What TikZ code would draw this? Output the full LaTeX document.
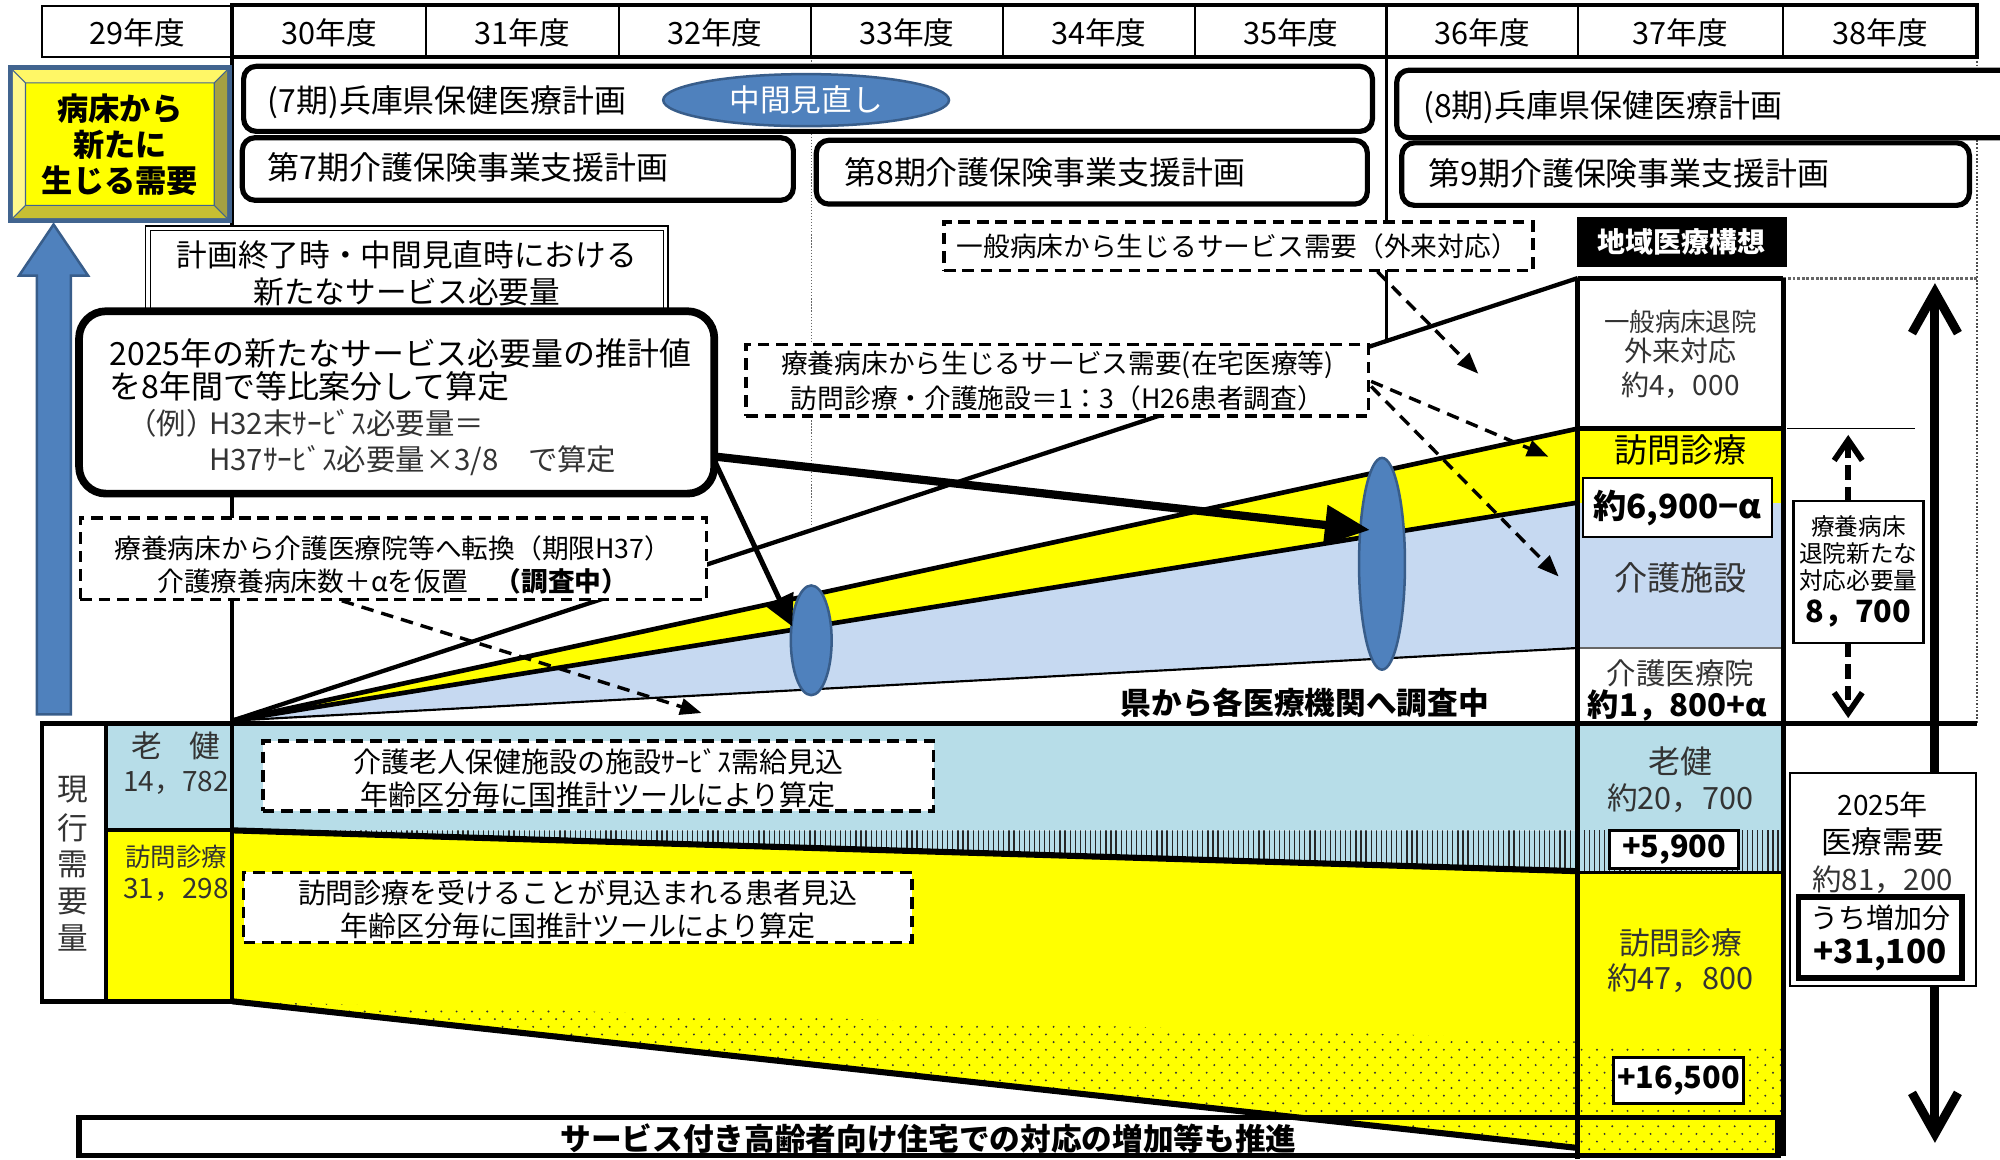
\documentclass[tikz,border=0pt]{standalone}
\usepackage{fontspec}
\setmainfont{Noto Sans CJK JP}
\usetikzlibrary{arrows.meta,shapes.geometric,fit}
\definecolor{ylw}{HTML}{FFFF00}
\definecolor{lb}{HTML}{B7DDE8}
\definecolor{wb}{HTML}{C6D9F1}
\definecolor{bl}{HTML}{4F81BD}
\definecolor{bld}{HTML}{385D8A}
\definecolor{frm}{HTML}{41648F}
\definecolor{gtx}{HTML}{333333}
\tikzset{
 T/.style={inner sep=0pt, outer sep=0pt},
 s18/.style={font=\fontsize{13.2pt}{15pt}\selectfont},
 s20/.style={font=\fontsize{14.2pt}{16pt}\selectfont},
 s21/.style={font=\fontsize{14.9pt}{17pt}\selectfont},
 s22/.style={font=\fontsize{15.6pt}{18pt}\selectfont},
 s23/.style={font=\fontsize{16.4pt}{19pt}\selectfont},
 s24/.style={font=\fontsize{17.1pt}{20pt}\selectfont},
 s25/.style={font=\fontsize{17.8pt}{21pt}\selectfont},
 s26/.style={font=\fontsize{18.5pt}{22pt}\selectfont},
 b22/.style={font=\fontsize{15.6pt}{18pt}\selectfont\bfseries},
 b24/.style={font=\fontsize{17.1pt}{20pt}\selectfont\bfseries},
 b25/.style={font=\fontsize{17.4pt}{19.9pt}\selectfont\bfseries},
 b26/.style={font=\fontsize{18.5pt}{22pt}\selectfont\bfseries},
 planbox/.style={draw, line width=2.9pt, rounded corners=7pt, fill=white, inner sep=0pt},
 dbox/.style={draw, line width=2pt, dash pattern=on 6.5pt off 3.8pt, fill=white, inner sep=0pt},
 wbox/.style={draw, line width=1pt, fill=white, inner sep=0pt},
 dasharrow/.style={line width=1.9pt, dash pattern=on 7pt off 4.5pt, -{Triangle[length=0.42cm,width=0.32cm]}},
 hatchline/.style={line width=0.7pt, black!85},
}
\begin{document}
\begin{tikzpicture}[x=0.025cm,y=-0.025cm]
\useasboundingbox (0,0) rectangle (1568,909);
\fill[white] (0,0) rectangle (1568,909);

% ---------- guide lines
\draw[line width=2.6pt] (182,45)--(182,785);
\draw[line width=2pt] (1087,45)--(1087,267.3);
\draw[black!60, line width=0.7pt, densely dotted] (636,45)--(636,413);
\draw[black!70, line width=1pt, densely dotted] (1550,45)--(1550,567);
\draw[black!60, line width=1.6pt, densely dotted] (1398,218)--(1550,218);

% ---------- header
\draw[line width=1.1pt] (33,5) rectangle (182,45);
\foreach \x in {334,485,636,786,937,1237,1398} \draw[line width=1.1pt] (\x,5)--(\x,45);
\draw[line width=2.2pt] (182,4) rectangle (1087,45);
\draw[line width=2.2pt] (1087,4) rectangle (1550,45);
\node[T,s24] (h29) at (107.5,26) {29年度};
\node[T,s24] (h30) at (258,26) {30年度};
\node[T,s24] (h31) at (409.5,26) {31年度};
\node[T,s24] (h32) at (560.5,26) {32年度};
\node[T,s24] (h33) at (711,26) {33年度};
\node[T,s24] (h34) at (861.5,26) {34年度};
\node[T,s24] (h35) at (1012,26) {35年度};
\node[T,s24] (h36) at (1162,26) {36年度};
\node[T,s24] (h37) at (1317.5,26) {37年度};
\node[T,s24] (h38) at (1474,26) {38年度};

% ---------- wedge
\coordinate (O) at (182,565);
\coordinate (c1) at (1237,218);
\coordinate (c2) at (1237,336);
\coordinate (c3) at (1237,394);
\coordinate (c4) at (1237,508);
\draw[line width=2.4pt] (O)--(c1);
\fill[wb] (O)--(c3)--(c4)--cycle;
\fill[ylw] (O)--(c2)--(c3)--cycle;
\draw[line width=2.6pt] (O)--(c2);
\draw[line width=2.6pt] (O)--(c3);
\draw[line width=1.2pt] (O)--(c4);

% ---------- upper table column
\fill[ylw] (1237,336) rectangle (1398,394);
\fill[wb] (1237,394) rectangle (1398,508);
\draw[black!60, line width=0.8pt] (1237,508)--(1398,508);
\draw[line width=1pt] (1401,336)--(1501,336);

% ---------- lower bands
\fill[lb] (83,567) rectangle (182,651);
\fill[ylw] (83,651) rectangle (182,785);
\fill[lb] (182,567) rectangle (1237,651);
\fill[ylw] (182,651)--(1237,683)--(1237,900)--(182,785)--cycle;
\begin{scope}
 \clip (182,651)--(1237,651)--(1237,683)--cycle;
 \fill[lb] (182,650) rectangle (1237,684);
 \foreach \x in {183,187,...,1237} \draw[hatchline] (\x,650)--(\x,684);
\end{scope}
\fill[lb] (1237,567) rectangle (1398,651);
\begin{scope}
 \clip (1237,651) rectangle (1398,684);
 \fill[lb] (1237,651) rectangle (1398,684);
 \foreach \x in {1238,1242,...,1398} \draw[hatchline] (\x,651)--(\x,684);
\end{scope}
\fill[ylw] (1237,684) rectangle (1398,906);
\begin{scope}
 \clip (182,785)--(1237,815)--(1237,900)--cycle (1237,818) rectangle (1398,906);
 \foreach \y in {787,799,...,907} \foreach \x in {184,196,...,1398} \fill[black!80] (\x,\y) circle[radius=0.6pt];
 \foreach \y in {793,805,...,907} \foreach \x in {190,202,...,1398} \fill[black!80] (\x,\y) circle[radius=0.6pt];
\end{scope}
\draw[line width=3.4pt] (182,651)--(1237,683);
\draw[line width=3.4pt] (182,785)--(1237,900);
\draw[line width=1.2pt] (1237,684)--(1398,684);

% table frame
\draw[line width=2.8pt] (1237,218)--(1398,218);
\draw[line width=2.8pt] (1237,336)--(1398,336);
\draw[line width=2.8pt] (1237,218)--(1237,909);
\draw[line width=2.8pt] (1398,218)--(1398,906);
\draw[line width=2.6pt] (33,567)--(1550,567);
\draw[line width=2.6pt] (33,567) rectangle (182,785);
\draw[line width=2.2pt] (83,567)--(83,785);
\draw[line width=2.2pt] (83,651)--(182,651);

% ---------- left cells text
\node[T,s24,text=gtx] (gen1) at (57,619) {現};
\node[T,s24,text=gtx] (gen2) at (57,649) {行};
\node[T,s24,text=gtx] (gen3) at (57,678) {需};
\node[T,s24,text=gtx] (gen4) at (57,707) {要};
\node[T,s24,text=gtx] (gen5) at (57,735) {量};
\node[T,s24,text=gtx] (rk) at (138,585) {老\hspace{0.9em}健};
\node[T,s22,text=gtx] (rkn) at (138,614) {14，782};
\node[T,s20,text=gtx] (hm) at (138,672) {訪問診療};
\node[T,s22,text=gtx] (hmn) at (138,698) {31，298};

% ---------- upper column text
\node[T,s20,text=gtx] (k1) at (1317.5,252) {一般病床退院};
\node[T,s22,text=gtx] (k2) at (1317.5,275) {外来対応};
\node[T,s22,text=gtx] (k3) at (1317.5,302) {約4，000};
\node[T,s26] (k4) at (1317.5,353) {訪問診療};
\node[wbox, line width=1.2pt, fit={(1241,375)(1389,421)}] (k5b) {};
\node[T,b26] (k5) at (1315,398) {約6,900−α};
\node[T,s26,text=gtx] (k6) at (1317.5,453) {介護施設};
\node[T,s23,text=gtx] (k7) at (1317.5,528) {介護医療院};
\node[T,b25] (k8) at (1315,553) {約1，800+α};

% ---------- lower column text
\node[T,s25,text=gtx] (l1) at (1317.5,597) {老健};
\node[T,s24,text=gtx] (l2) at (1317.5,626) {約20，700};
\node[wbox, line width=1.4pt, fit={(1262,651)(1363,681)}] (l3b) {};
\node[T,b24] (l3) at (1312.5,666) {+5,900};
\node[T,s24,text=gtx] (l4) at (1317.5,739) {訪問診療};
\node[T,s24,text=gtx] (l5) at (1317.5,767) {約47，800};
\node[wbox, line width=1.4pt, fit={(1265,829)(1367,865)}] (l6b) {};
\node[T,b24] (l6) at (1316,847) {+16,500};

% ---------- right side
\draw[line width=5pt, {Straight Barb[length=0.8cm,width=0.9cm]}-{Straight Barb[length=0.8cm,width=0.9cm]}] (1517,222)--(1517,896);
\node[wbox, line width=1.3pt, fit={(1406,393)(1508,504)}] (r87) {};
\node[T,s18] (r1) at (1457,413) {療養病床};
\node[T,s18] (r2) at (1457,434) {退院新たな};
\node[T,s18] (r3) at (1457,455) {対応必要量};
\node[T,b24] (r4) at (1457,481) {8，700};
\draw[line width=3.2pt, dash pattern=on 8pt off 4pt, -{Straight Barb[length=0.4cm,width=0.55cm]}] (1449,393)--(1449,341);
\draw[line width=3.2pt, dash pattern=on 8pt off 4pt, -{Straight Barb[length=0.4cm,width=0.55cm]}] (1449,504)--(1449,563);

\node[wbox, line width=1.1pt, fit={(1403,606)(1549,773)}] (m25) {};
\node[T,s22] (m1) at (1476,631) {2025年};
\node[T,s24] (m2) at (1476,660) {医療需要};
\node[T,s23,text=gtx] (m3) at (1476,690) {約81，200};
\node[draw, line width=3.2pt, fill=white, inner sep=0pt, fit={(1410,703)(1538,767)}] (inc) {};
\node[T,s22] (m4) at (1474,720) {うち増加分};
\node[T,b26] (m5) at (1474,749) {+31,100};

\node[fill=black, inner sep=0pt, fit={(1236,170)(1401,209)}] (chiiki) {};
\node[T,b22,text=white] (chiikit) at (1318.5,189.5) {地域医療構想};

% ---------- left yellow bevel box and blue arrow
\fill[frm] (6,51) rectangle (182,175);
\fill[yellow!60!white] (10,55)--(178,55)--(168,65)--(20,65)--cycle;
\fill[yellow!45!white] (10,55)--(20,65)--(20,161)--(10,171)--cycle;
\fill[yellow!60!black] (178,55)--(178,171)--(168,161)--(168,65)--cycle;
\fill[yellow!75!black] (10,171)--(178,171)--(168,161)--(20,161)--cycle;
\fill[ylw] (20,65) rectangle (168,161);
\draw[frm, line width=0.6pt] (10,55)--(20,65) (178,55)--(168,65) (10,171)--(20,161) (178,171)--(168,161) (20,65) rectangle (168,161);
\node[T, b25, align=center] (need) at (94,113.5) {病床から\\新たに\\生じる需要};
\draw[fill=bl, draw=bld, line width=1.4pt] (29,560)--(29,216)--(15,216)--(42,176)--(69,216)--(55.5,216)--(55.5,560)--cycle;

% ---------- plan boxes
\node[planbox, fit={(191,52)(1076,103)}] (p7) {};
\node[T,s25,anchor=west] (p7t) at (210,80) {(7期)兵庫県保健医療計画};
\node[ellipse, draw=bld, fill=bl, line width=1.4pt, minimum width=5.6cm, minimum height=1.02cm, inner sep=0pt, s24, text=white] (mid) at (632,78.5) {中間見直し};
\node[planbox, fit={(190,108)(622,157)}] (k7) {};
\node[T,s25,anchor=west] (k7t) at (210,131) {第7期介護保険事業支援計画};
\node[planbox, fit={(640,110)(1072,160)}] (k8p) {};
\node[T,s25,anchor=west] (k8t) at (662,135) {第8期介護保険事業支援計画};
\node[planbox, fit={(1095,55)(1620,108)}] (p8) {};
\node[T,s25,anchor=west] (p8t) at (1116,84) {(8期)兵庫県保健医療計画};
\node[planbox, fit={(1099,112)(1544,161)}] (k9) {};
\node[T,s25,anchor=west] (k9t) at (1120,136) {第9期介護保険事業支援計画};

% ---------- explanation boxes
\node[draw, double, double distance=1.8pt, line width=0.8pt, fill=white, inner sep=0pt, fit={(116,179)(522,245)}] (endbox) {};
\node[T,s24] (e1t) at (319,200) {計画終了時・中間見直時における};
\node[T,s24] (e2t) at (319,229) {新たなサービス必要量};

\node[draw, line width=4.3pt, rounded corners=15pt, fill=white, inner sep=0pt, fit={(62,244)(560,387)}] (big) {};
\node[T,s25,anchor=west] (g1) at (86,277) {2025年の新たなサービス必要量の推計値};
\node[T,s25,anchor=west] (g2) at (86,303) {を8年間で等比案分して算定};
\node[T,s23,anchor=west,text=gtx] (g3a) at (100,332) {（例）};
\node[T,s23,anchor=west,text=gtx] (g3) at (164,332) {H32末ｻｰﾋﾞｽ必要量＝};
\node[T,s23,anchor=west,text=gtx] (g4) at (164,361) {H37ｻｰﾋﾞｽ必要量×3/8　で算定};

\node[dbox, fit={(63,406)(554,470)}] (conv) {};
\node[T,s21] (cv1) at (308,430) {療養病床から介護医療院等へ転換（期限H37）};
\node[T,s21] (cv2) at (308,456) {介護療養病床数＋αを仮置　\textbf{（調査中）}};

\node[dbox, fit={(740,174)(1202,212)}] (gen) {};
\node[T,s21] (gent) at (970,193) {一般病床から生じるサービス需要（外来対応）};

\node[dbox, fit={(585,270)(1073,326)}] (ryo) {};
\node[T,s21] (ry1) at (829,286) {療養病床から生じるサービス需要(在宅医療等)};
\node[T,s21] (ry2) at (829,312) {訪問診療・介護施設＝1：3（H26患者調査）};

\node[dbox, fit={(206,581)(732,636)}] (rokb) {};
\node[T,s22] (rk1) at (469,597) {介護老人保健施設の施設ｻｰﾋﾞｽ需給見込};
\node[T,s22] (rk2) at (469,623) {年齢区分毎に国推計ツールにより算定};

\node[dbox, fit={(191,684)(715,739)}] (homb) {};
\node[T,s22] (hm1) at (453,700) {訪問診療を受けることが見込まれる患者見込};
\node[T,s22] (hm2) at (453,726) {年齢区分毎に国推計ツールにより算定};

\node[T,b24] (survey) at (1023,551) {県から各医療機関へ調査中};

\node[draw, line width=3pt, inner sep=0pt, fit={(62,876)(1394,906)}] (sbox) {};
\node[T,b24] (sboxt) at (728,893) {サービス付き高齢者向け住宅での対応の増加等も推進};

% ---------- ellipses and arrows
\node[ellipse, draw=bld, fill=bl, line width=1.4pt, minimum width=0.8cm, minimum height=2.15cm, inner sep=0pt] (el1) at (636,502) {};
\node[ellipse, draw=bld, fill=bl, line width=1.4pt, minimum width=0.9cm, minimum height=4.15cm, inner sep=0pt] (el2) at (1083.5,442) {};
\coordinate (bc1) at (561,358);
\coordinate (bc2) at (561,363);
\coordinate (t2) at (1074,415.5);
\coordinate (t1) at (621,491);
\draw[line width=4.6pt, -{Triangle[length=0.88cm,width=0.75cm]}] (bc1)--(t2);
\draw[line width=2.8pt, -{Triangle[length=0.6cm,width=0.6cm]}] (bc2)--(t1);

\coordinate (ga) at (1080,213);
\coordinate (gb) at (1159,293);
\draw[dasharrow] (ga)--(gb);
\coordinate (ra) at (1075,299);
\coordinate (rb) at (1214,358);
\coordinate (rc) at (1075,303);
\coordinate (rd) at (1222,452);
\draw[dasharrow] (ra)--(rb);
\draw[dasharrow] (rc)--(rd);
\coordinate (ca) at (268,471);
\coordinate (cb) at (550,559);
\draw[dasharrow] (ca)--(cb);
\end{tikzpicture}
\end{document}
